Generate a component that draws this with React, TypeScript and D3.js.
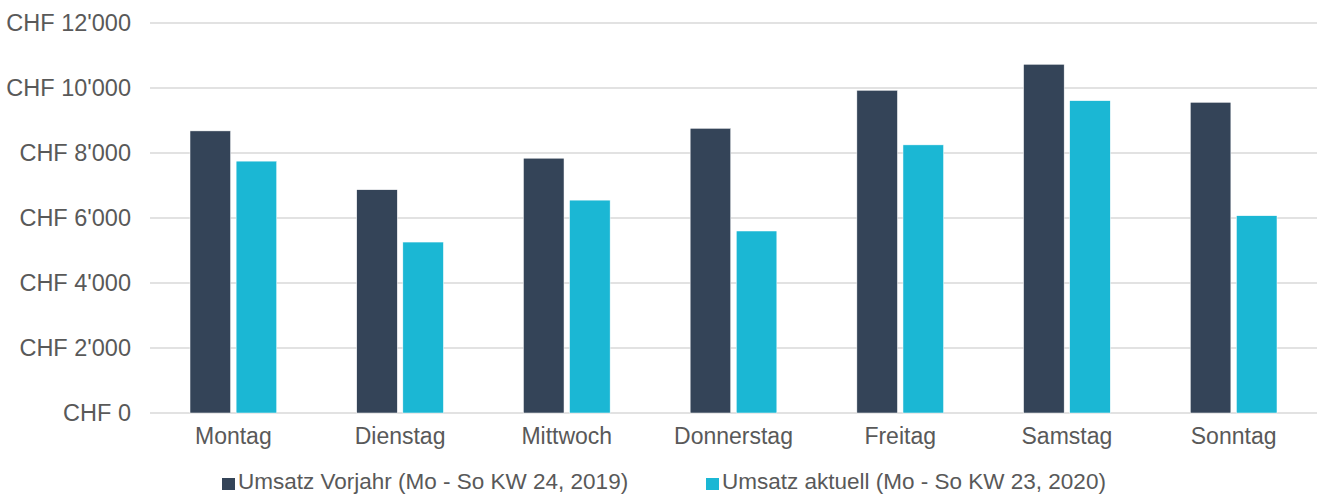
import React from "react";
import { scaleBand, scaleLinear } from "d3";

const days = ["Montag", "Dienstag", "Mittwoch", "Donnerstag", "Freitag", "Samstag", "Sonntag"];
const vorjahr = [8680, 6870, 7840, 8760, 9930, 10730, 9560];
const aktuell = [7750, 5260, 6550, 5600, 8250, 9610, 6070];
const yTicks = [0, 2000, 4000, 6000, 8000, 10000, 12000];
const seriesNames = ["Umsatz Vorjahr (Mo - So KW 24, 2019)", "Umsatz aktuell (Mo - So KW 23, 2020)"];
const colors = ["#344458", "#1bb7d4"];

const W = 1317;
const H = 495;
const left = 150;
const right = 1317;
const top = 23;
const bottom = 413;

const fmt = (v: number) => {
  const s = String(v).replace(/\B(?=(\d{3})+(?!\d))/g, "'");
  return "CHF " + s;
};

const App = () => {
  const x = scaleBand<string>().domain(days).range([left, right]).paddingInner(0.48).paddingOuter(0.24);
  const inner = scaleBand<number>().domain([0, 1]).range([0, x.bandwidth()]).paddingInner(0.12);
  const y = scaleLinear().domain([0, 12000]).range([bottom, top]);
  const series = [vorjahr, aktuell];
  const font = "'Liberation Sans', Arial, Helvetica, sans-serif";

  return (
    <>
      <style>{`body{margin:0}`}</style>
      <svg width={W} height={H} style={{ display: "block", fontFamily: font }}>
        <rect width={W} height={H} fill="#fff" />
        {yTicks.map((t) => (
          <g key={t}>
            <line x1={left} x2={right} y1={y(t)} y2={y(t)} stroke="#d9d9d9" strokeWidth={1.5} />
            <text x={131} y={y(t)} dy="0.36em" textAnchor="end" fontSize={23.5} fill="#595959">
              {fmt(t)}
            </text>
          </g>
        ))}
        {series.map((vals, si) =>
          vals.map((v, i) => (
            <rect
              key={si + "-" + i}
              x={(x(days[i]) ?? 0) + (inner(si) ?? 0)}
              y={y(v)}
              width={inner.bandwidth()}
              height={bottom - y(v)}
              fill={colors[si]}
              stroke="#fff"
              strokeWidth={0.5}
            />
          ))
        )}
        {days.map((d) => (
          <text
            key={d}
            x={(x(d) ?? 0) + x.bandwidth() / 2}
            y={444}
            textAnchor="middle"
            fontSize={23}
            fill="#595959"
          >
            {d}
          </text>
        ))}
        {seriesNames.map((n, i) => {
          const lx = [222, 706][i];
          return (
            <g key={n}>
              <rect x={lx} y={478} width={13} height={12} fill={colors[i]} />
              <text x={lx + 16} y={489} fontSize={22.5} fill="#595959">
                {n}
              </text>
            </g>
          );
        })}
      </svg>
    </>
  );
};

export default App;
